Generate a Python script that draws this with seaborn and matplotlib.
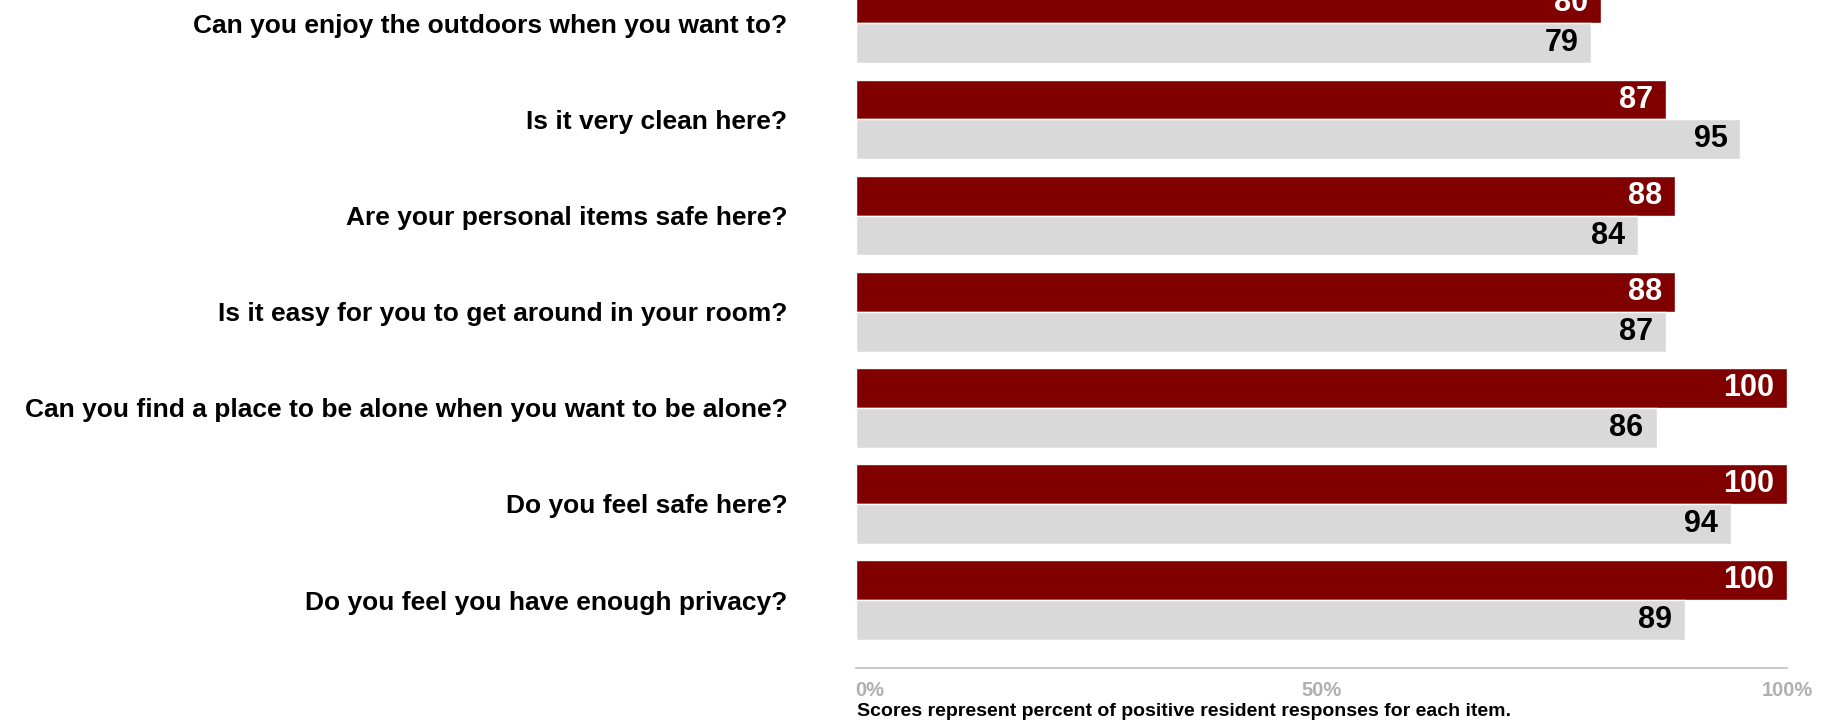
import matplotlib
matplotlib.use("Agg")
import matplotlib.pyplot as plt
import seaborn as sns
import pandas as pd
import numpy as np

categories = [
    "Can you enjoy the outdoors when you want to?",
    "Is it very clean here?",
    "Are your personal items safe here?",
    "Is it easy for you to get around in your room?",
    "Can you find a place to be alone when you want to be alone?",
    "Do you feel safe here?",
    "Do you feel you have enough privacy?",
]
series_names = ["This facility", "Comparison"]
facility = [80, 87, 88, 88, 100, 100, 100]
comparison = [79, 95, 84, 87, 86, 94, 89]
x_ticks = [0, 50, 100]
x_tick_labels = ["0%", "50%", "100%"]
footnote = "Scores represent percent of positive resident responses for each item."

colors = ["#800000", "#d9d9d9"]
label_colors = ["white", "black"]

sns.set_theme(style="white")
fam = ["Liberation Sans", "DejaVu Sans"]
plt.rcParams["font.family"] = fam

df = pd.DataFrame({
    "question": categories * 2,
    "series": [series_names[0]] * len(categories) + [series_names[1]] * len(categories),
    "value": facility + comparison,
})

fig = plt.figure(figsize=(18.35, 7.26), dpi=100)
ax = fig.add_axes([855.5 / 1835, (726 - 668) / 726, (1787 - 855.5) / 1835, 668 / 726])

sns.barplot(data=df, y="question", x="value", hue="series", order=categories,
            hue_order=series_names, palette=colors, width=0.83, orient="h",
            saturation=1, ax=ax, legend=False, gap=0)

for container, lc in zip(ax.containers, label_colors):
    for rect, v in zip(container.patches, container.datavalues):
        ax.annotate(f"{v:g}", (rect.get_x() + rect.get_width(), rect.get_y() + rect.get_height() / 2),
                    xytext=(-13, 0), textcoords="offset pixels", ha="right", va="center",
                    color=lc, fontsize=22, fontweight="bold", family=fam)

ax.set_xlim(0, 100)
ax.set_ylim(6.707, -0.243)
ax.set_xlabel("")
ax.set_ylabel("")

ax.set_yticks(range(len(categories)))
ax.set_yticklabels(categories, family=fam, fontweight="bold", fontsize=19, color="black")
ax.tick_params(axis="y", length=0, pad=49)

ax.set_xticks(x_ticks)
ax.set_xticklabels(x_tick_labels, family=fam, fontweight="bold", fontsize=14.5, color="#b0b0b0")
ax.tick_params(axis="x", direction="inout", length=6, width=1, color="#c0c0c0", pad=6)
ax.get_xticklabels()[0].set_ha("left")

for s in ["top", "right", "left"]:
    ax.spines[s].set_visible(False)
ax.spines["bottom"].set_color("#c0c0c0")
ax.spines["bottom"].set_linewidth(1.2)

fig.text(857 / 1835, 1 - 712 / 726, footnote, family=fam, fontweight="bold",
         fontsize=14, color="black", ha="left", va="center")

fig.savefig("out.png", dpi=100)
